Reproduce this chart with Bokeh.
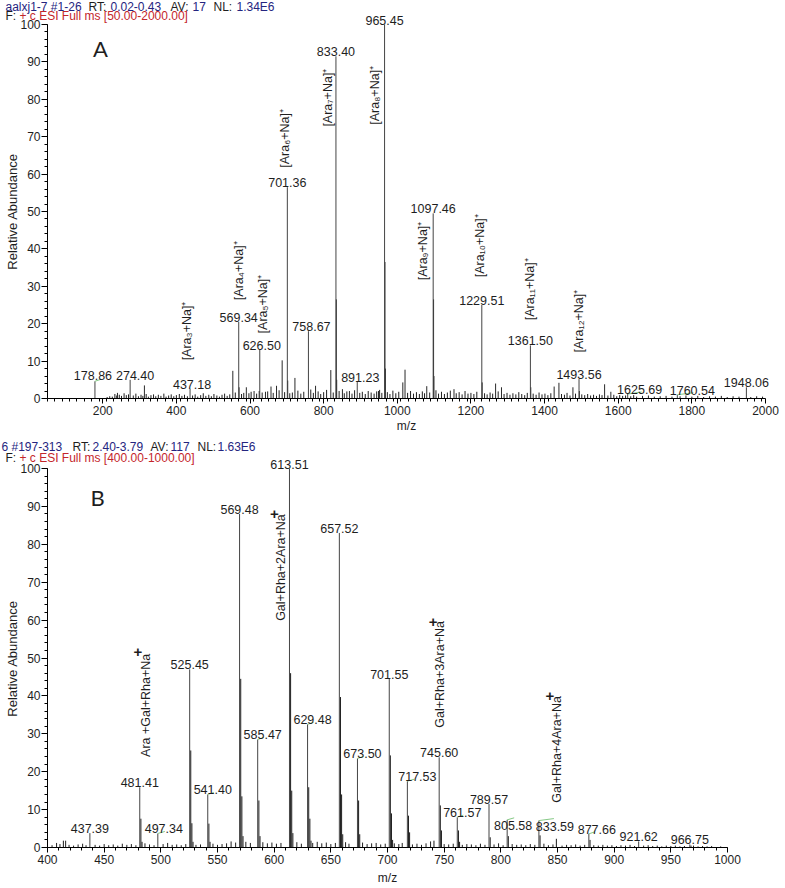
import math
from bokeh.plotting import figure
from bokeh.models import Label, LabelSet, FixedTicker, ColumnDataSource, Range1d
from bokeh.layouts import column
from bokeh.embed import file_html
from bokeh.resources import INLINE
from bokeh.core.properties import value

FONT = "Liberation Sans"

# ---------------- Panel A data ----------------
a_header_text = ["aalxj1-7 #1-26", "RT:", "0.02-0.43", "AV:", "17", "NL:", "1.34E6"]
a_scan_text = ["F:", "+ c ESI Full ms [50.00-2000.00]"]
a_xticks = [200, 400, 600, 800, 1000, 1200, 1400, 1600, 1800, 2000]

a_peak_mz = [178.86, 274.40, 437.18, 569.34, 626.50, 701.36, 758.67, 833.40, 891.23,
             965.45, 1097.46, 1229.51, 1361.50, 1493.56, 1625.69, 1760.54, 1948.06]
a_peak_h = [4.6, 5.0, 2.6, 20.5, 13.0, 56.5, 18.0, 91.5, 4.4,
            100.0, 49.5, 25.0, 14.2, 5.2, 1.2, 1.0, 3.0]

a_minor_mz = [240, 313.2, 553.3, 570.3, 590, 611, 642, 657, 672, 687.3,
              702.4, 722, 778, 819.4, 834.4, 835.4, 851, 870, 949, 966.5,
              967.5, 1015, 1021, 1080, 1098.5, 1099.5, 1154, 1230.5, 1267, 1283,
              1362.5, 1426, 1439, 1477, 1494.5, 1563, 1580]
a_minor_h = [1.5, 3.5, 7.4, 3.0, 3.0, 2.0, 1.8, 3.2, 3.4, 10.2,
             4.8, 5.5, 3.4, 7.6, 26.5, 5.0, 2.5, 2.0, 2.0, 36.5,
             8.0, 4.3, 7.7, 3.3, 26.5, 6.0, 2.5, 4.3, 4.0, 3.0,
             3.0, 3.2, 4.2, 3.0, 2.0, 3.8, 1.8]

a_noise_mz = [212, 219, 226, 233, 238, 245, 251, 258, 264, 270,
              283, 290, 297, 304, 309, 318, 324, 331, 338, 344,
              351, 358, 366, 372, 379, 386, 393, 400, 408, 415,
              422, 430, 444, 451, 458, 466, 473, 480, 488, 495,
              502, 510, 517, 524, 531, 538, 545, 560, 577, 583,
              597, 603, 618, 625, 633, 648, 663, 679, 694, 708,
              715, 730, 738, 746, 765, 772, 785, 792, 800, 808,
              826, 842, 856, 863, 877, 884, 898, 905, 913, 921,
              929, 937, 944, 952, 958, 973, 980, 988, 996, 1004,
              1028, 1036, 1044, 1052, 1060, 1068, 1074, 1088, 1105, 1112,
              1120, 1128, 1136, 1144, 1160, 1168, 1176, 1184, 1192, 1200,
              1208, 1216, 1237, 1244, 1252, 1259, 1274, 1290, 1298, 1306,
              1314, 1322, 1330, 1338, 1346, 1353, 1369, 1377, 1385, 1393,
              1401, 1409, 1417, 1446, 1454, 1461, 1469, 1484, 1501, 1509,
              1517, 1525, 1533, 1541, 1549, 1556, 1572, 1588, 1596, 1604,
              1612, 1620, 1634, 1642, 1650, 1666, 1682, 1698, 1714, 1730,
              1746, 1768, 1784, 1800, 1816, 1832, 1848, 1864, 1880, 1896,
              1912, 1928, 1960, 1976, 1992]
a_noise_h = [0.4, 0.6, 0.5, 1.2, 0.8, 1.0, 0.7, 1.4, 0.9, 1.1,
             0.8, 1.3, 0.6, 1.0, 0.7, 1.2, 0.5, 0.9, 1.1, 0.6,
             1.0, 0.7, 1.3, 0.5, 0.8, 1.1, 0.6, 0.9, 1.2, 0.7,
             1.0, 0.6, 0.8, 1.1, 0.5, 0.9, 1.4, 0.7, 1.0, 0.6,
             1.2, 0.8, 0.5, 1.0, 1.3, 0.7, 1.1, 1.6, 1.2, 1.5,
             1.4, 1.8, 1.3, 2.0, 1.6, 1.9, 1.5, 2.2, 1.7, 1.4,
             1.6, 2.1, 1.3, 1.8, 2.4, 1.5, 1.9, 1.2, 1.7, 2.3,
             1.6, 2.0, 1.4, 1.9, 1.3, 2.2, 1.5, 1.8, 1.2, 2.0,
             1.6, 1.3, 1.9, 2.3, 1.5, 1.7, 1.2, 2.1, 1.4, 1.8,
             1.5, 2.0, 1.3, 1.7, 1.2, 1.9, 1.4, 1.6, 2.2, 1.3,
             1.8, 1.2, 1.6, 2.1, 1.4, 1.7, 1.1, 2.0, 1.3, 1.5,
             1.2, 1.8, 1.4, 1.1, 1.6, 1.3, 1.9, 1.2, 1.5, 1.0,
             1.4, 1.1, 1.7, 1.2, 0.9, 1.5, 1.3, 1.0, 1.6, 1.1,
             1.3, 0.9, 1.4, 1.2, 1.0, 1.5, 0.8, 1.3, 1.1, 0.9,
             1.2, 0.8, 1.0, 0.7, 1.1, 0.9, 0.8, 1.0, 0.6, 0.9,
             0.7, 0.8, 0.6, 0.9, 0.5, 0.7, 0.8, 0.5, 0.6, 0.7,
             0.5, 0.6, 0.8, 0.5, 0.7, 0.4, 0.6, 0.5, 0.7, 0.4,
             0.6, 0.5, 0.4, 0.6, 0.5]

a_ion_text = ["[Ara\u2083+Na]\u207a", "[Ara\u2084+Na]\u207a", "[Ara\u2085+Na]\u207a",
              "[Ara\u2086+Na]\u207a", "[Ara\u2087+Na]\u207a", "[Ara\u2088+Na]\u207a",
              "[Ara\u2089+Na]\u207a", "[Ara\u2081\u2080+Na]\u207a", "[Ara\u2081\u2081+Na]\u207a",
              "[Ara\u2081\u2082+Na]\u207a"]
a_ion_mz = [437.18, 569.34, 626.50, 701.36, 833.40, 965.45, 1097.46, 1229.51, 1361.50, 1493.56]

# ---------------- Panel B data ----------------
b_header_text = ["6 #197-313", "RT:", "2.40-3.79", "AV:", "117", "NL:", "1.63E6"]
b_scan_text = ["F:", "+ c ESI Full ms [400.00-1000.00]"]
b_xticks = [400, 450, 500, 550, 600, 650, 700, 750, 800, 850, 900, 950, 1000]

b_peak_mz = [437.39, 481.41, 497.34, 525.45, 541.40, 569.48, 585.47, 613.51, 629.48, 657.52,
             673.50, 701.55, 717.53, 745.60, 761.57, 789.57, 805.58, 833.59, 877.66, 921.62, 966.75]
b_peak_h = [3.8, 15.9, 3.7, 47.0, 14.0, 88.0, 28.5, 100.0, 32.5, 83.0,
            23.5, 44.5, 17.5, 23.8, 8.0, 11.5, 7.3, 7.1, 3.6, 1.6, 0.8]

b_minor_mz = [414, 482.4, 483.4, 526.4, 527.4, 528.4, 542.4, 543.4, 570.5, 571.5,
              572.5, 586.5, 587.5, 614.5, 615.5, 616.5, 630.5, 631.5, 632.5, 658.5,
              659.5, 660.5, 674.5, 675.5, 702.5, 703.5, 704.5, 718.5, 719.5, 741,
              746.6, 747.6, 762.6, 763.6, 790.6, 806.6, 834.6, 849, 878.7, 967.8]
b_minor_h = [1.8, 7.6, 1.5, 25.6, 6.4, 1.5, 6.3, 1.5, 44.5, 13.5,
             3.0, 12.4, 3.0, 46.0, 15.0, 3.8, 15.9, 7.6, 1.8, 39.7,
             14.0, 3.5, 12.4, 3.5, 24.3, 9.0, 2.0, 8.4, 4.0, 1.8,
             11.1, 4.5, 4.5, 1.5, 2.7, 3.0, 3.2, 2.3, 2.0, 0.5]

b_noise_mz = [404, 408, 411, 416, 419, 423, 427, 431, 434, 442,
              446, 450, 454, 458, 462, 466, 470, 474, 478, 486,
              490, 494, 502, 506, 510, 514, 518, 522, 531, 535,
              546, 550, 554, 558, 562, 566, 575, 579, 590, 594,
              598, 602, 606, 620, 624, 634, 638, 642, 646, 650,
              654, 663, 666, 678, 682, 686, 690, 694, 698, 706,
              710, 713, 722, 726, 730, 734, 738, 750, 754, 758,
              766, 770, 774, 778, 782, 786, 794, 798, 802, 810,
              814, 818, 822, 826, 830, 838, 842, 846, 854, 858,
              862, 866, 870, 874, 882, 886, 890, 894, 898, 902,
              906, 910, 914, 918, 926, 930, 934, 938, 942, 946,
              950, 954, 958, 962, 970, 974, 978, 982, 986, 994]
b_noise_h = [0.6, 1.2, 0.9, 1.8, 0.7, 0.5, 0.8, 1.0, 0.6, 0.7,
             0.5, 0.9, 0.6, 0.8, 0.5, 1.0, 0.7, 0.9, 0.6, 1.1,
             0.8, 0.6, 0.9, 1.2, 0.7, 0.8, 0.6, 0.9, 0.7, 0.8,
             1.0, 0.7, 0.9, 1.1, 1.6, 1.3, 1.5, 1.2, 1.4, 1.1,
             1.3, 1.0, 1.2, 1.4, 1.0, 1.2, 1.5, 1.1, 1.3, 0.9,
             1.2, 1.4, 1.0, 1.3, 0.9, 1.1, 1.2, 0.8, 1.0, 1.1,
             0.9, 1.2, 0.8, 1.0, 0.7, 1.1, 1.6, 0.9, 0.8, 1.0,
             0.7, 0.9, 0.8, 0.6, 1.0, 0.7, 0.8, 1.1, 0.6, 0.9,
             0.7, 0.8, 0.6, 0.9, 0.7, 1.0, 0.6, 0.8, 0.5, 0.7,
             0.6, 0.8, 0.5, 0.7, 0.6, 0.5, 0.7, 0.5, 0.6, 0.4,
             0.6, 0.5, 0.7, 0.4, 0.5, 0.6, 0.4, 0.5, 0.3, 0.5,
             0.4, 0.5, 0.3, 0.4, 0.5, 0.3, 0.4, 0.3, 0.4, 0.3]

b_ion_text = ["Ara +Gal+Rha+Na", "Gal+Rha+2Ara+Na", "Gal+Rha+3Ara+Na", "Gal+Rha+4Ara+Na"]
b_ion_mz = [481.41, 613.51, 745.60, 833.59]

y_ticks = [0, 10, 20, 30, 40, 50, 60, 70, 80, 90, 100]

# ---------------- layout / style (pixels, not data) ----------------
NAVY = "#25257f"
RED = "#c4262b"
DARK = "#1e1e1e"
PEAK = "#444444"
GREEN = "#86c986"
W = 785

a_num_offsets = {178.86: (-2, 1), 274.40: (5, 0), 437.18: (2, 0), 626.50: (2, 0),
                 758.67: (3, 0), 891.23: (3, 0), 1625.69: (12, 0), 1760.54: (15, 0)}
b_num_offsets = {497.34: (6, 0), 541.40: (5, 0), 585.47: (5, 0), 629.48: (5, 0),
                 673.50: (5, 0), 717.53: (10, 0), 761.57: (5, 0), 805.58: (6, -10),
                 833.59: (16, -10), 877.66: (8, 0)}
# short green leader lines (peak m/z -> pixel length to the right)
a_leaders = {178.86: 6, 1625.69: 14, 1760.54: 16}
b_leaders = {497.34: 7, 541.40: 6, 585.47: 6, 629.48: 6, 673.50: 6, 717.53: 7,
             761.57: 6, 805.58: 7, 833.59: 15, 877.66: 6}
a_ion_y = [10.2, 26.3, 17.4, 61.7, 72.7, 73.2, 31.6, 32.4, 20.9, 12.3]
a_ion_dx = [-3, 0, 3, -2, -8, -10, -10, -2, 0, 0]
b_ion_y = [23.9, 59.8, 31.6, 11.8]
b_ion_dx = [6, -8, 1, 18]
b_plus_y = [51.5, 88.1, 59.5, 39.9]
b_plus_dx = [-2, -15, -6, 11]


def make_panel(height, xa, xb, px_a, px_b, py_top, py_zero, xticks, xminor_step):
    """Frame covers the whole canvas; axes sit at fixed locations inside it.
    px_a/px_b: pixel columns of xa/xb; py_top/py_zero: pixel rows of 100 and 0."""
    kx = (px_b - px_a) / (xb - xa)
    ky = (py_zero - py_top) / 100.0
    xr = Range1d(xa - px_a / kx, xb + (W - px_b) / kx)
    yr = Range1d(-(height - py_zero) / ky, 100 + py_top / ky)
    p = figure(width=W, height=height, x_range=xr, y_range=yr,
               output_backend="svg", toolbar_location=None,
               min_border_left=0, min_border_right=0, min_border_top=0, min_border_bottom=0)
    p.outline_line_color = None
    p.xgrid.visible = False
    p.ygrid.visible = False
    p.background_fill_color = "white"
    p.border_fill_color = "white"
    p.xaxis.fixed_location = 0
    p.yaxis.fixed_location = xa
    p.xaxis.bounds = (xa, xb)
    p.yaxis.bounds = (0, 100)
    minor_x = [v for v in range(int(xa), int(xb) + 1, xminor_step)]
    p.xaxis.ticker = FixedTicker(ticks=xticks, minor_ticks=minor_x)
    p.yaxis.ticker = FixedTicker(ticks=y_ticks, minor_ticks=list(range(0, 101, 2)))
    for ax in (p.xaxis[0], p.yaxis[0]):
        ax.axis_line_color = "black"
        ax.axis_line_width = 1
        ax.major_tick_line_color = "black"
        ax.minor_tick_line_color = "black"
        ax.major_label_text_font = FONT
        ax.major_label_text_font_size = "12px"
        ax.major_label_text_color = DARK
        ax.major_tick_in = 0
        ax.minor_tick_in = 0
    p.xaxis.major_tick_out = 5
    p.xaxis.minor_tick_out = 3
    p.yaxis.major_tick_out = 6
    p.yaxis.minor_tick_out = 3
    p.xaxis.major_label_standoff = 2
    p.yaxis.major_label_standoff = 1
    return p, kx, ky


def sticks(p, mz, h, color):
    src = ColumnDataSource(dict(x=mz, y0=[0] * len(mz), y1=h))
    p.segment(x0="x", y0="y0", x1="x", y1="y1", source=src, line_color=color, line_width=1)


def leaders(p, mz, h, lengths, kx, ky):
    xs0, ys0, xs1, ys1 = [], [], [], []
    for m, v in zip(mz, h):
        if m in lengths:
            xs0.append(m)
            ys0.append(v)
            xs1.append(m + lengths[m] / kx)
            ys1.append(v + 2.0 / ky)
    src = ColumnDataSource(dict(x0=xs0, y0=ys0, x1=xs1, y1=ys1))
    p.segment(x0="x0", y0="y0", x1="x1", y1="y1", source=src, line_color=GREEN, line_width=1)


def number_labels(p, mz, h, offsets):
    dx = [offsets.get(m, (0, 0))[0] for m in mz]
    dy = [offsets.get(m, (0, 0))[1] for m in mz]
    src = ColumnDataSource(dict(x=mz, y=h, text=["%.2f" % m for m in mz], dx=dx, dy=dy))
    p.add_layout(LabelSet(x="x", y="y", text="text", x_offset="dx", y_offset="dy", source=src,
                          text_align="center", text_baseline="bottom",
                          text_font=value(FONT), text_font_size="12.5px", text_color=DARK))


def screen_label(p, canvas_h, text, px, py, color=DARK, size="12px", angle=0.0, align="left",
                 baseline="middle", font=FONT):
    # px, py: pixel position from the canvas top-left
    p.add_layout(Label(x=px, y=canvas_h - py, x_units="screen", y_units="screen", text=text,
                       text_color=color, text_font_size=size, text_font=font,
                       text_align=align, text_baseline=baseline, angle=angle))


head_c = [NAVY, DARK, NAVY, DARK, NAVY, DARK, NAVY]

# ---------------- Panel A ----------------
HA = 438
pA, kxA, kyA = make_panel(HA, 50, 2000, 47, 765, 24, 398, a_xticks, 20)
sticks(pA, a_noise_mz, a_noise_h, "#202020")
sticks(pA, a_minor_mz, a_minor_h, "#2a2a2a")
sticks(pA, a_peak_mz, a_peak_h, PEAK)
leaders(pA, a_peak_mz, a_peak_h, a_leaders, kxA, kyA)
number_labels(pA, a_peak_mz, a_peak_h, a_num_offsets)
srcA = ColumnDataSource(dict(x=a_ion_mz, y=a_ion_y, text=a_ion_text, dx=a_ion_dx))
pA.add_layout(LabelSet(x="x", y="y", text="text", x_offset="dx", source=srcA, angle=math.pi / 2,
                       text_align="left", text_baseline="middle", text_font=value(FONT),
                       text_font_size="12.5px", text_color=DARK))

a_head_x = [5, 88, 110, 170, 192, 213, 236]
for t, x, c in zip(a_header_text, a_head_x, head_c):
    screen_label(pA, HA, t, x, 6, color=c)
screen_label(pA, HA, a_scan_text[0], 5, 15, color=DARK)
screen_label(pA, HA, a_scan_text[1], 19, 15, color=RED)
screen_label(pA, HA, "Relative Abundance", 12, 211, angle=math.pi / 2, align="center", size="13px")
screen_label(pA, HA, "m/z", 406, 425, align="center")
screen_label(pA, HA, "A", 100, 48, size="22px", align="center", font="Lato")

# ---------------- Panel B ----------------
HB = 450
pB, kxB, kyB = make_panel(HB, 400, 1000, 47, 727, 30, 409, b_xticks, 10)
sticks(pB, b_noise_mz, b_noise_h, "#202020")
sticks(pB, b_minor_mz, b_minor_h, "#1a1a1a")
sticks(pB, b_peak_mz, b_peak_h, PEAK)
leaders(pB, b_peak_mz, b_peak_h, b_leaders, kxB, kyB)
number_labels(pB, b_peak_mz, b_peak_h, b_num_offsets)
srcB = ColumnDataSource(dict(x=b_ion_mz, y=b_ion_y, text=b_ion_text, dx=b_ion_dx))
pB.add_layout(LabelSet(x="x", y="y", text="text", x_offset="dx", source=srcB, angle=math.pi / 2,
                       text_align="left", text_baseline="middle", text_font=value(FONT),
                       text_font_size="12.5px", text_color=DARK))
srcP = ColumnDataSource(dict(x=b_ion_mz, y=b_plus_y, text=["+"] * len(b_ion_mz), dx=b_plus_dx))
pB.add_layout(LabelSet(x="x", y="y", text="text", x_offset="dx", source=srcP,
                       text_align="center", text_baseline="middle", text_font=value(FONT),
                       text_font_size="15px", text_font_style="bold", text_color=DARK))

b_head_x = [1, 72, 92, 150, 170, 197, 217]
for t, x, c in zip(b_header_text, b_head_x, head_c):
    screen_label(pB, HB, t, x, 8, color=c)
screen_label(pB, HB, b_scan_text[0], 5, 19, color=DARK)
screen_label(pB, HB, b_scan_text[1], 19, 19, color=RED)
screen_label(pB, HB, "Relative Abundance", 12, 220, angle=math.pi / 2, align="center", size="13px")
screen_label(pB, HB, "m/z", 387, 439, align="center")
screen_label(pB, HB, "B", 97, 59, size="22px", align="center", font="Lato")

layout = column(pA, pB)
open("out.html", "w").write(file_html(layout, INLINE))
